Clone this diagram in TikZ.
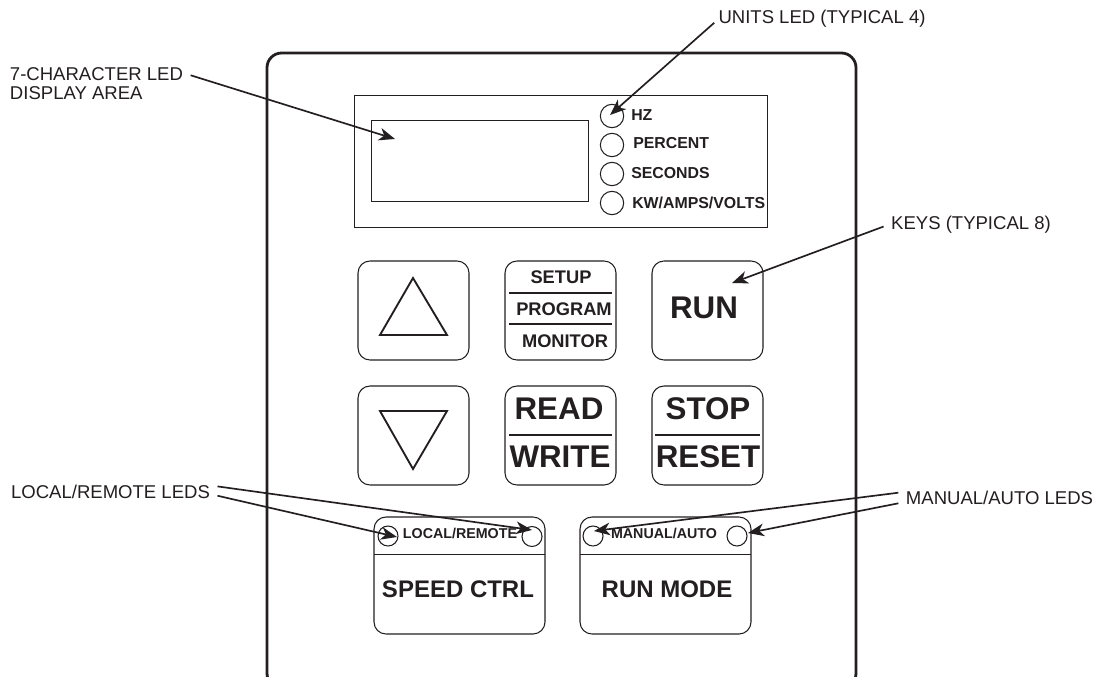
\documentclass[tikz,border=0pt]{standalone}
\usepackage{fontspec}
\setmainfont{Liberation Sans}
\usetikzlibrary{arrows.meta, positioning}
\definecolor{ink}{HTML}{231F20}
\tikzset{
    keybox/.style={draw=ink, line width=0.8pt, rounded corners=9pt, minimum width=83.25pt, minimum height=74.25pt, inner sep=0pt},
    modebox/.style={draw=ink, line width=0.8pt, rounded corners=9pt, minimum width=128.25pt, minimum height=87.75pt, inner sep=0pt},
    led/.style={circle, draw=ink, line width=0.8pt, minimum size=17.5pt, inner sep=0pt},
    smallled/.style={circle, draw=ink, line width=0.8pt, minimum size=15pt, inner sep=0pt},
    note/.style={text=ink, inner xsep=5.5pt, inner ysep=2pt, font=\fontsize{13.9}{14.3}\selectfont},
    unitlabel/.style={text=ink, anchor=west, inner sep=0pt, font=\bfseries\fontsize{11.9}{12}\selectfont},
    smallkey/.style={text=ink, inner sep=0pt, font=\bfseries\fontsize{13.7}{14}\selectfont},
    bigkey/.style={text=ink, inner sep=0pt, font=\bfseries\fontsize{23.5}{24}\selectfont},
    modekey/.style={text=ink, inner sep=0pt, font=\bfseries\fontsize{18}{19}\selectfont},
    ledtext/.style={text=ink, inner sep=0pt, font=\bfseries\fontsize{10.7}{11}\selectfont},
    rule/.style={draw=ink, line width=1.5pt},
    pointer/.style={draw=ink, line width=1.25pt, -{Stealth[length=12pt, width=9.5pt, inset=3.5pt]}}
}

\begin{document}
\begin{tikzpicture}[x=0.75pt, y=-0.75pt]
    \clip (0,0) rectangle (1094,677);
    \fill[white] (0,0) rectangle (1094,677);
    % housing and display
    \draw[ink, line width=2.1pt, rounded corners=11pt] (267,53) rectangle (856,688);
    \draw[ink, line width=0.75pt] (354,96) rectangle (767,227);
    \draw[ink, line width=0.75pt] (371,121) rectangle (588,202);
    \node[led] (ledHz) at (612,116) {};
    \node[led] (ledPercent) at (612,145) {};
    \node[led] (ledSeconds) at (612,174) {};
    \node[led] (ledVolts) at (612,203) {};
    \node[unitlabel] (hzLabel) at (631,115) {HZ};
    \node[unitlabel] (percentLabel) at (633,143) {PERCENT};
    \node[unitlabel] (secondsLabel) at (631,173) {SECONDS};
    \node[unitlabel] (voltsLabel) at (632,203) {KW/AMPS/VOLTS};
    % keys
    \node[keybox] (keyUp) at (413.5,310.5) {};
    \node[keybox] (keySetup) at (560.5,310.5) {};
    \node[keybox] (keyRun) at (707.5,310.5) {};
    \node[keybox] (keyDown) at (413.5,435.5) {};
    \node[keybox] (keyRead) at (560.5,435.5) {};
    \node[keybox] (keyStop) at (707.5,435.5) {};
    \draw[ink, line width=1.4pt] (413,278) -- (447,335) -- (380,335) -- cycle;
    \draw[ink, line width=1.4pt] (413,469) -- (447,411) -- (380,411) -- cycle;
    \node[smallkey] (setupText) at (561,277) {SETUP};
    \node[smallkey] (programText) at (564,309) {PROGRAM};
    \node[smallkey] (monitorText) at (565,341) {MONITOR};
    \draw[rule] (509,293) -- (612,293);
    \draw[rule] (509,324) -- (612,324);
    \node[bigkey] (runText) at (704,308) {RUN};
    \node[bigkey] (readText) at (559,409) {READ};
    \node[bigkey] (writeText) at (560,457) {WRITE};
    \draw[rule] (509,435) -- (612,435);
    \node[bigkey] (stopText) at (708,409) {STOP};
    \node[bigkey] (resetText) at (708,457) {RESET};
    \draw[rule] (655,435) -- (760,435);
    % lower keys
    \node[modebox] (speedBox) at (459.5,575.5) {};
    \node[modebox] (modeBox) at (665.5,575.5) {};
    \draw[ink, line width=0.8pt] (374,554.5) -- (545,554.5);
    \draw[ink, line width=0.8pt] (580,554.5) -- (751,554.5);
    \node[smallled] (ledLocal) at (388,536) {};
    \node[smallled] (ledRemote) at (532,536.5) {};
    \node[smallled] (ledManual) at (593,536) {};
    \node[smallled] (ledAuto) at (737,536) {};
    \node[ledtext] (localText) at (460,533) {LOCAL/REMOTE};
    \node[ledtext] (manualText) at (664,533) {MANUAL/AUTO};
    \node[modekey] (speedText) at (458,589) {SPEED CTRL};
    \node[modekey] (modeText) at (667,589) {RUN MODE};
    % callouts
    \node[note, align=left] (displayNote) at (96.5,83.5) {7-CHARACTER LED\\DISPLAY AREA};
    \node[note, inner xsep=3pt] (unitsNote) at (822,19) {UNITS LED (TYPICAL 4)};
    \node[note] (keysNote) at (971,225) {KEYS (TYPICAL 8)};
    \node[note] (localNote) at (110.5,492) {LOCAL/REMOTE LEDS};
    \node[note] (manualNote) at (999.5,498) {MANUAL/AUTO LEDS};
    \coordinate (displayTip) at (395,139);
    \coordinate (unitsTip) at (610,115);
    \coordinate (keysTip) at (732,283);
    \coordinate (remoteTip) at (532,530);
    \coordinate (localTip) at (397,537);
    \coordinate (manualTip) at (594,531);
    \coordinate (autoTip) at (748,533);
    \draw[pointer] (displayNote.5.5) -- (displayTip);
    \draw[pointer] (unitsNote.182) -- (unitsTip);
    \draw[pointer] (keysNote.181) -- (keysTip);
    \draw[pointer] (localNote.3) -- (remoteTip);
    \draw[pointer] (localNote.-2) -- (localTip);
    \draw[pointer] (manualNote.177) -- (manualTip);
    \draw[pointer] (manualNote.183) -- (autoTip);
\end{tikzpicture}
\end{document}
